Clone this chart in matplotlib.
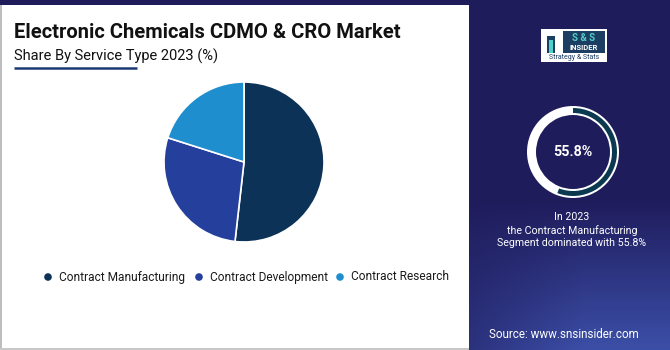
import matplotlib
matplotlib.use("Agg")
import matplotlib.pyplot as plt
import numpy as np
from matplotlib.patches import Rectangle, Wedge, Circle

plt.rcParams['font.family'] = ['Roboto', 'DejaVu Sans']

# ---- data ----
title = "Electronic Chemicals CDMO & CRO Market"
subtitle = "Share By Service Type 2023 (%)"
categories = ["Contract Manufacturing", "Contract Development", "Contract Research"]
shares = [51.8, 28.1, 20.1]
colors = ["#0c3357", "#253f9d", "#1f8ecf"]
highlight_value = 55.8
highlight_text = "In 2023\nthe Contract Manufacturing\nSegment dominated with 55.8%"
source = "Source: www.snsinsider.com"

W, H = 670, 350
fig = plt.figure(figsize=(W / 100, H / 100), dpi=100)
fig.patch.set_facecolor("#1f1c5c")

bg = fig.add_axes([0, 0, 1, 1])
bg.set_xlim(0, W)
bg.set_ylim(H, 0)
bg.axis("off")

# background gradient (lighter at bottom right)
yy, xx = np.mgrid[0:H, 0:W]
g = np.clip((yy - 200) / 150.0, 0, 1) * np.clip((xx - 460) / 210.0 + 0.4, 0, 1)
base = np.array([0x1f, 0x1c, 0x5c]) / 255
light = np.array([0x3c, 0x4f, 0xa8]) / 255
img = base[None, None, :] * (1 - g[..., None]) + light[None, None, :] * g[..., None]
bg.imshow(img, extent=[0, W, H, 0], aspect="auto", zorder=0)

# white panel
bg.add_patch(Rectangle((0, 5), 469, 345, facecolor="white", edgecolor="none", zorder=1))
bg.add_patch(Rectangle((0, 5), 1.5, 345, facecolor="#bdbdbd", edgecolor="none", zorder=2))
bg.add_patch(Rectangle((0, 347.5), 469, 2.5, facecolor="#c8c8c8", edgecolor="none", zorder=2))

# titles
bg.text(14, 38, title, fontsize=14.5, fontweight="bold", color="#111111", zorder=3)
bg.text(14, 61, subtitle, fontsize=10.5, color="#111111", zorder=3)
bg.plot([14, 137], [67.5, 67.5], color="#1b3a73", lw=1.8, zorder=3, solid_capstyle="butt")

# legend
leg_x = [48, 199, 340]
for x, c, lab in zip(leg_x, colors, categories):
    bg.add_patch(Circle((x, 277), 3.8, facecolor=c, edgecolor="none", zorder=3))
    bg.text(x + 11, 277, lab, fontsize=8.6, color="#1a1a1a", va="center", zorder=3)

# pie
cx, cy, r = 244, 162, 80
pax = fig.add_axes([(cx - r) / W, 1 - (cy + r) / H, 2 * r / W, 2 * r / H])
pax.pie(shares, colors=colors, startangle=90, counterclock=False,
        wedgeprops=dict(edgecolor="white", linewidth=1.2))
pax.set_xlim(-1, 1)
pax.set_ylim(-1, 1)
pax.set_aspect("equal")

# logo
bg.add_patch(Rectangle((541, 29), 66, 33, facecolor="white", edgecolor="none", zorder=3))
bg.add_patch(Rectangle((563, 31), 42, 22, facecolor="#1c3e63", edgecolor="none", zorder=4))
bg.text(584, 38, "S & S", fontsize=7, fontweight="bold", color="#4fd0c8", ha="center", va="center", zorder=5)
bg.text(584, 48, "INSIDER", fontsize=5.5, fontweight="bold", color="white", ha="center", va="center", zorder=5)
bg.text(574, 57.5, "Strategy & Stats", fontsize=5, color="#1c3e63", ha="center", va="center", zorder=5)
bg.add_patch(Rectangle((547, 36), 8, 17, facecolor="#1c3e63", edgecolor="none", zorder=4))
bg.add_patch(Rectangle((549, 40), 4, 13, facecolor="#4fd0c8", edgecolor="none", zorder=5))

# highlight ring
rx, ry = 573, 152
bg.add_patch(Wedge((rx, ry), 46, 0, 360, width=9, facecolor="white", edgecolor="none", zorder=3))
bg.add_patch(Wedge((rx, ry), 44, -90, -90 + 360 * highlight_value / 100, width=5,
                   facecolor="#0b3a50", edgecolor="none", zorder=4))
bg.text(rx, ry, f"{highlight_value}%", fontsize=10.3, fontweight="bold", color="white",
        ha="center", va="center", zorder=5)
bg.text(572, 230, highlight_text, fontsize=7.7, color="white", ha="center", va="center",
        linespacing=1.3, zorder=3)

bg.text(564, 334, source, fontsize=8.4, color="white", ha="center", va="center", zorder=3)

fig.savefig("out.png", dpi=100, facecolor=fig.get_facecolor())
